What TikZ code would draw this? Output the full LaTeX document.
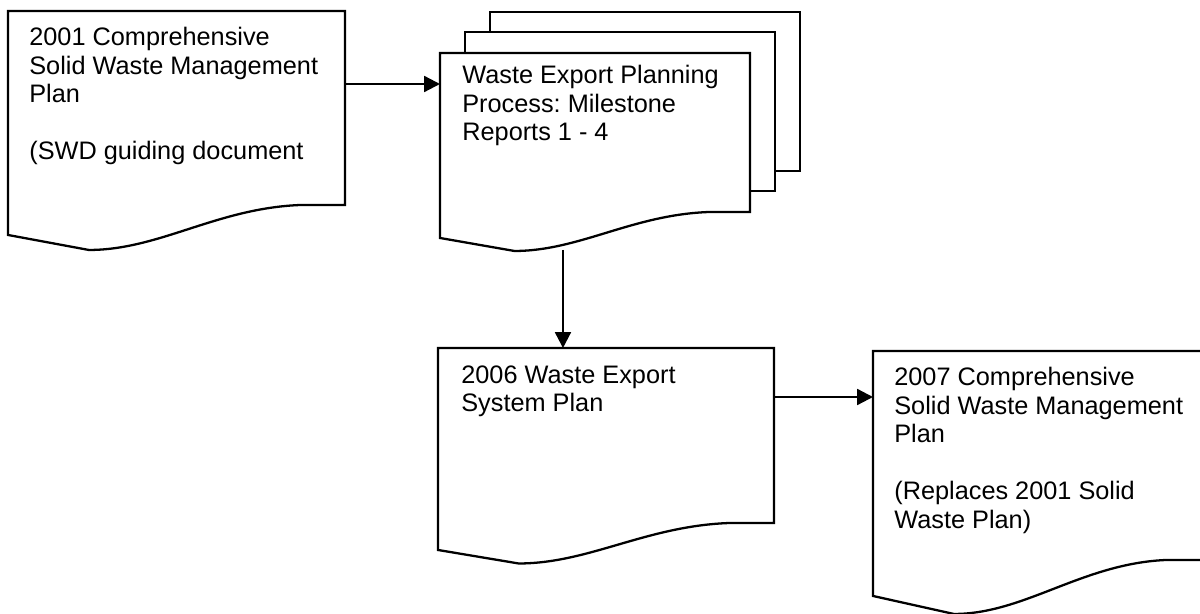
\documentclass[tikz,border=0pt]{standalone}
\usepackage{fontspec}
\setmainfont{Liberation Sans}
\usetikzlibrary{arrows.meta,calc}

\newcommand{\docoutline}[2]{%
  \draw[docline] (#1.north west) -- (#1.north east) -- (#1.south east)
    -- ($(#1.south west)!0.87!(#1.south east)$)
    .. controls ($(#1.south west)!0.62!(#1.south east)+(0,{0.1*#2})$) and ($(#1.south west)!0.45!(#1.south east)+(0,{1.5*#2})$)
    .. ($(#1.south west)!0.24!(#1.south east)+(0,{1.5*#2})$)
    -- ($(#1.south west)+(0,#2)$) -- cycle;}

\begin{document}
\begin{tikzpicture}[x=0.02cm, y=-0.02cm,
    frame/.style={anchor=north west, inner sep=0pt, outer sep=0pt},
    docline/.style={line width=1.3pt, fill=white},
    page/.style={line width=1.3pt, fill=white},
    txt/.style={anchor=north west, inner sep=0pt, align=left, font=\fontsize{14.4}{16.2}\selectfont\frenchspacing},
    arr/.style={-{Triangle[length=9pt, width=9pt]}, line width=1.3pt}
]
\clip (0,0) rectangle (1200,613);

\node[frame, minimum width=6.74cm, minimum height=3.88cm] (plan01) at (8,11) {};
\node[frame, minimum width=6.2cm, minimum height=3.18cm] (wepc) at (490,12) {};
\node[frame, minimum width=6.2cm, minimum height=3.18cm] (wepb) at (465,32) {};
\node[frame, minimum width=6.2cm, minimum height=3.18cm] (wep) at (440,53) {};
\node[frame, minimum width=6.72cm, minimum height=3.5cm] (sys06) at (438,348) {};
\node[frame, minimum width=6.74cm, minimum height=4.18cm] (plan07) at (873,351) {};

\docoutline{plan01}{30}
\draw[page] (wepc.north west) rectangle (wepc.south east);
\draw[page] (wepb.north west) rectangle (wepb.south east);
\docoutline{wep}{26}
\docoutline{sys06}{27}
\docoutline{plan07}{36}

\node[txt] (plan01txt) at ([xshift=0.42cm, yshift=-0.32cm]plan01.north west) {2001 Comprehensive\\Solid Waste Management\\Plan\\[16.2pt](SWD guiding document};
\node[txt] (weptxt) at ([xshift=0.44cm, yshift=-0.24cm]wep.north west) {Waste Export Planning\\Process: Milestone\\Reports 1 - 4};
\node[txt] (sys06txt) at ([xshift=0.46cm, yshift=-0.34cm]sys06.north west) {2006 Waste Export\\System Plan};
\node[txt] (plan07txt) at ([xshift=0.42cm, yshift=-0.32cm]plan07.north west) {2007 Comprehensive\\Solid Waste Management\\Plan\\[16.2pt](Replaces 2001 Solid\\Waste Plan)};

\draw[arr] ([yshift=-1.46cm]plan01.north east) coordinate (p1) -- (p1 -| wep.west);
\draw[arr] ([xshift=2.46cm, yshift=-0.76cm]wep.south west) coordinate (p2) -- (p2 |- sys06.north);
\draw[arr] ([yshift=-0.98cm]sys06.north east) coordinate (p3) -- (p3 -| plan07.west);
\end{tikzpicture}
\end{document}
